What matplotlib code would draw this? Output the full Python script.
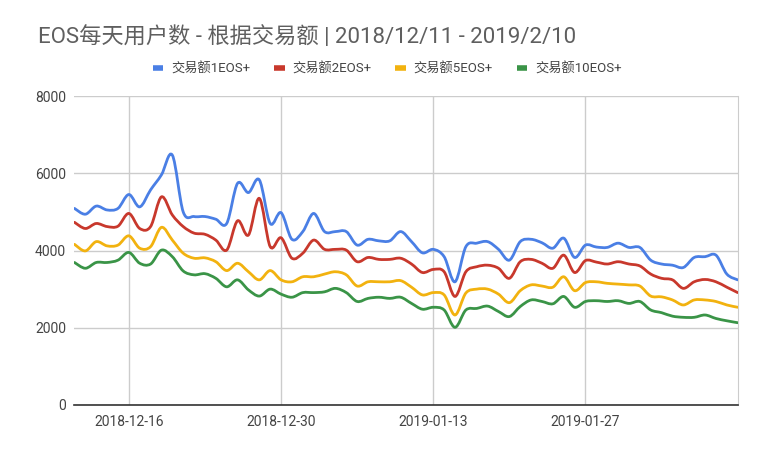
import matplotlib.pyplot as plt
import matplotlib.dates as mdates
from matplotlib.path import Path
from matplotlib.patches import PathPatch
import numpy as np
import pandas as pd

plt.rcParams['font.family'] = ['Roboto', 'Noto Sans CJK SC', 'DejaVu Sans']
plt.rcParams['axes.unicode_minus'] = False

# 数据：2018-12-11 至 2019-02-10 每天用户数
dates = pd.date_range('2018-12-11', '2019-02-10', freq='D')

eos1 = [5090, 4940, 5150, 5050, 5090, 5450, 5130, 5570, 5960, 6470,
        5000, 4880, 4880, 4810, 4700, 5740, 5500, 5830, 4700, 4980,
        4290, 4490, 4960, 4490, 4490, 4490, 4140, 4290, 4250, 4250,
        4490, 4230, 3940, 4030, 3840, 3190, 4100, 4190, 4230, 4030,
        3750, 4230, 4290, 4200, 4060, 4320, 3820, 4140, 4090, 4080,
        4190, 4080, 4080, 3750, 3650, 3620, 3560, 3820, 3840, 3880,
        3390, 3240]
eos2 = [4730, 4570, 4700, 4620, 4630, 4960, 4570, 4620, 5390, 4920,
        4620, 4450, 4420, 4270, 4010, 4770, 4400, 5350, 4100, 4330,
        3800, 3930, 4270, 4030, 4030, 4010, 3710, 3820, 3770, 3770,
        3800, 3650, 3430, 3510, 3450, 2810, 3450, 3580, 3620, 3540,
        3280, 3710, 3770, 3670, 3540, 3880, 3430, 3740, 3700, 3650,
        3710, 3650, 3600, 3390, 3280, 3240, 3020, 3190, 3250, 3190,
        3050, 2910]
eos5 = [4160, 3990, 4230, 4120, 4140, 4380, 4060, 4100, 4600, 4270,
        3930, 3800, 3810, 3710, 3480, 3670, 3450, 3240, 3480, 3240,
        3190, 3320, 3320, 3390, 3450, 3370, 3080, 3190, 3190, 3190,
        3220, 3050, 2850, 2910, 2850, 2330, 2900, 3000, 3000, 2870,
        2650, 2960, 3110, 3080, 3050, 3320, 2960, 3170, 3190, 3150,
        3130, 3110, 3080, 2820, 2800, 2720, 2590, 2720, 2720, 2680,
        2590, 2530]
eos10 = [3690, 3540, 3690, 3690, 3750, 3950, 3670, 3650, 4010, 3840,
         3470, 3370, 3400, 3280, 3060, 3240, 2980, 2820, 3000, 2870,
         2790, 2910, 2910, 2930, 3020, 2910, 2680, 2760, 2790, 2760,
         2790, 2630, 2480, 2530, 2460, 2010, 2460, 2500, 2560, 2420,
         2290, 2550, 2720, 2680, 2620, 2810, 2530, 2680, 2700, 2680,
         2700, 2630, 2680, 2460, 2390, 2300, 2270, 2270, 2330, 2240,
         2180, 2130]

labels = ['交易额1EOS+', '交易额2EOS+', '交易额5EOS+', '交易额10EOS+']
colors = ['#4a7fe5', '#c8382c', '#f2b20f', '#3a9447']
tick_dates = pd.to_datetime(['2018-12-16', '2018-12-30', '2019-01-13', '2019-01-27'])


def smooth_path(x, y):
    # 平滑曲线（类似 Google Charts 的 curveType: function）
    x = np.asarray(x, float)
    y = np.asarray(y, float)
    verts = [(x[0], y[0])]
    codes = [Path.MOVETO]
    n = len(x)
    for i in range(n - 1):
        p0 = max(i - 1, 0)
        p3 = min(i + 2, n - 1)
        c1 = (x[i] + (x[i + 1] - x[p0]) / 6, y[i] + (y[i + 1] - y[p0]) / 6)
        c2 = (x[i + 1] - (x[p3] - x[i]) / 6, y[i + 1] - (y[p3] - y[i]) / 6)
        verts += [c1, c2, (x[i + 1], y[i + 1])]
        codes += [Path.CURVE4] * 3
    return Path(verts, codes)


fig = plt.figure(figsize=(7.67, 4.53), dpi=100)
ax = fig.add_axes([0.0971, 0.106, 0.8647, 0.682])

xnum = mdates.date2num(dates)
for vals, lab, c in zip([eos1, eos2, eos5, eos10], labels, colors):
    ax.add_patch(PathPatch(smooth_path(xnum, vals), facecolor='none',
                           edgecolor=c, linewidth=2.0, capstyle='round',
                           joinstyle='round', zorder=3))
    ax.plot([], [], color=c, label=lab)

ax.set_xlim(dates[0], dates[-1])
ax.set_ylim(0, 8000)
ax.set_yticks(np.arange(0, 8001, 2000))
ax.set_xticks(tick_dates)
ax.xaxis.set_major_formatter(mdates.DateFormatter('%Y-%m-%d'))

ax.grid(True, color='#cccccc', linewidth=1)
ax.set_axisbelow(True)
for s in ['top', 'left']:
    ax.spines[s].set_visible(False)
ax.spines['right'].set_color('#cccccc')
ax.spines['bottom'].set_color('#333333')
ax.spines['bottom'].set_linewidth(1.2)
ax.spines['bottom'].set_zorder(4)
ax.tick_params(axis='both', length=0, labelsize=10, colors='#444444')
ax.tick_params(axis='x', pad=7)
ax.tick_params(axis='y', pad=6)

fig.text(0.049, 0.918, 'EOS每天用户数 - 根据交易额 | 2018/12/11 - 2019/2/10',
         fontsize=16, color='#5f5f5f', ha='left', va='center')

leg = ax.legend(loc='center', bbox_to_anchor=(0.505, 0.848),
                bbox_transform=fig.transFigure, ncol=4, frameon=False,
                fontsize=9.5, handlelength=0.8, handletextpad=0.6,
                columnspacing=1.8)
for line in leg.get_lines():
    line.set_linewidth(4)
    line.set_solid_capstyle('butt')
for t in leg.get_texts():
    t.set_color('#444444')

fig.savefig('out.png', dpi=100)
